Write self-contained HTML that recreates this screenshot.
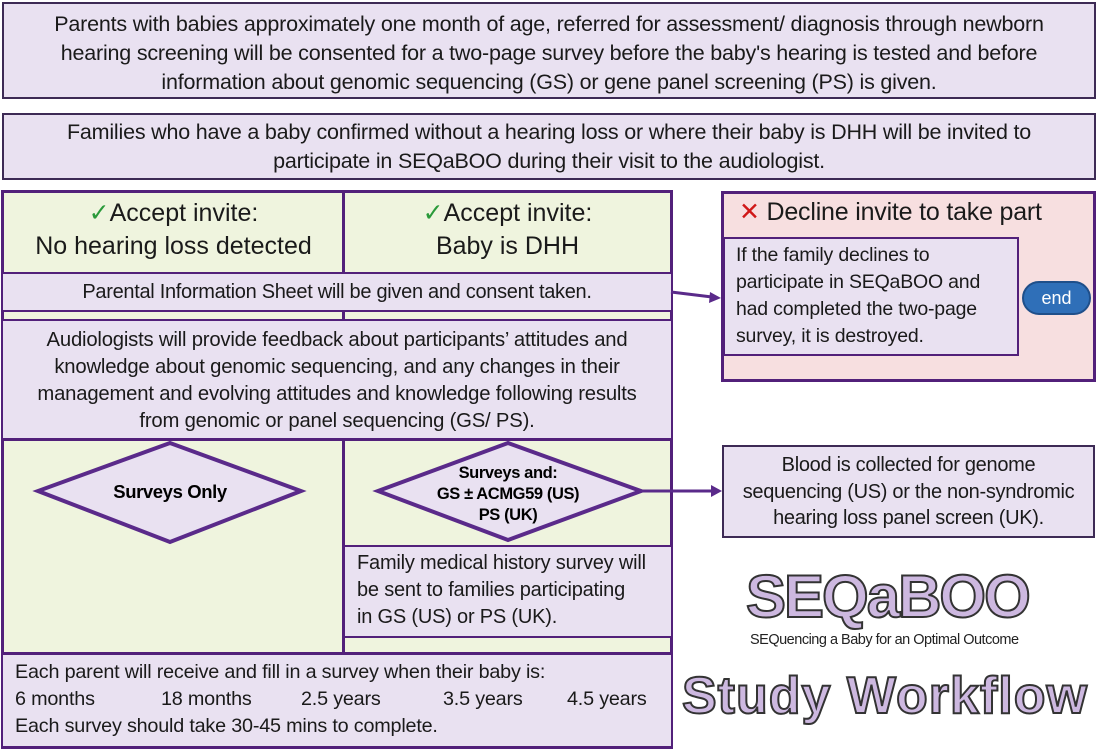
<!DOCTYPE html>
<html><head><meta charset="utf-8"><style>
*{margin:0;padding:0;box-sizing:border-box}
body{width:1100px;height:752px;background:#fff;position:relative;overflow:hidden;font-family:"Liberation Sans",sans-serif;color:#1a1a1a}
.b{position:absolute;white-space:nowrap}
.c{text-align:center}
.lav{background:#e9e1f1}
.grn{background:#eff4de}
</style></head><body>
<div class="b c lav" style="left:2px;top:2px;width:1094px;height:97px;border:2px solid #3d2a55;font-size:21.5px;line-height:29px;padding-top:6px;letter-spacing:-0.2px">Parents with babies approximately one month of age, referred for assessment/ diagnosis through newborn<br>hearing screening will be consented for a two-page survey before the baby's hearing is tested and before<br>information about genomic sequencing (GS) or gene panel screening (PS) is given.</div>
<div class="b c lav" style="left:2px;top:113px;width:1094px;height:67px;border:2px solid #3d2a55;font-size:21.5px;line-height:29px;padding-top:3px;letter-spacing:-0.2px">Families who have a baby confirmed without a hearing loss or where their baby is DHH will be invited to<br>participate in SEQaBOO during their visit to the audiologist.</div>

<!-- big box -->
<div class="b" style="left:1px;top:190px;width:672px;height:559px;border:3px solid #52207a;background:#eff4de"></div>
<div class="b c grn" style="left:4px;top:193px;width:339px;height:80px;font-size:25px;line-height:33px;padding-top:4px"><span style="color:#2a9a3a">✓</span>Accept invite:<br>No hearing loss detected</div>
<div class="b c grn" style="left:346px;top:193px;width:323px;height:80px;font-size:25px;line-height:33px;padding-top:4px"><span style="color:#2a9a3a">✓</span>Accept invite:<br>Baby is DHH</div>
<div class="b" style="left:342px;top:192px;width:3px;height:82px;background:#52207a"></div>
<div class="b c lav" style="left:3px;top:272px;width:668px;height:40px;border-top:2px solid #52207a;border-bottom:2px solid #52207a;font-size:20px;line-height:36px;letter-spacing:-0.3px">Parental Information Sheet will be given and consent taken.</div>
<div class="b" style="left:342px;top:311px;width:3px;height:10px;background:#52207a"></div>
<div class="b c lav" style="left:3px;top:319px;width:668px;height:122px;border-top:2px solid #52207a;border-bottom:3px solid #52207a;font-size:20.3px;line-height:27px;padding-top:6px;letter-spacing:-0.2px">Audiologists will provide feedback about participants’ attitudes and<br>knowledge about genomic sequencing, and any changes in their<br>management and evolving attitudes and knowledge following results<br>from genomic or panel sequencing (GS/ PS).</div>
<div class="b" style="left:342px;top:440px;width:3px;height:214px;background:#52207a"></div>
<div class="b lav" style="left:345px;top:545px;width:326px;height:93px;border-top:2px solid #52207a;border-bottom:2px solid #52207a;font-size:20px;line-height:27px;padding:3px 0 0 12px;letter-spacing:-0.2px">Family medical history survey will<br>be sent to families participating<br>in GS (US) or PS (UK).</div>
<div class="b lav" style="left:3px;top:652px;width:668px;height:94px;border-top:3px solid #52207a;font-size:19.8px;line-height:27px;padding:4px 0 0 12px;letter-spacing:-0.2px">Each parent will receive and fill in a survey when their baby is:<br><span style="display:inline-block;width:146px">6 months</span><span style="display:inline-block;width:140px">18 months</span><span style="display:inline-block;width:142px">2.5 years</span><span style="display:inline-block;width:124px">3.5 years</span>4.5 years<br>Each survey should take 30-45 mins to complete.</div>

<svg class="b" style="left:0;top:0" width="1100" height="752">
<polygon points="170,443 301,491 170,542 38,491" fill="#e9e1f1" stroke="#5a2a8a" stroke-width="4"/>
<polygon points="508,443 641,491 508,540 378,491" fill="#e9e1f1" stroke="#5a2a8a" stroke-width="4"/>
<text x="170" y="498" text-anchor="middle" font-family="Liberation Sans" font-weight="bold" font-size="18.5" letter-spacing="-0.4">Surveys Only</text>
<text x="508" y="478" text-anchor="middle" font-family="Liberation Sans" font-weight="bold" font-size="16.5" letter-spacing="-0.4">Surveys and:</text>
<text x="508" y="499" text-anchor="middle" font-family="Liberation Sans" font-weight="bold" font-size="16.5" letter-spacing="-0.4">GS ± ACMG59 (US)</text>
<text x="508" y="520" text-anchor="middle" font-family="Liberation Sans" font-weight="bold" font-size="16.5" letter-spacing="-0.4">PS (UK)</text>
<line x1="671" y1="292" x2="712" y2="297" stroke="#5a2a8a" stroke-width="3"/>
<polygon points="721,298 710,292 709,303" fill="#5a2a8a"/>
<line x1="641" y1="491" x2="712" y2="491" stroke="#5a2a8a" stroke-width="3"/>
<polygon points="722,491 711,485 711,497" fill="#5a2a8a"/>
</svg>

<!-- decline -->
<div class="b" style="left:721px;top:191px;width:375px;height:191px;border:3px solid #52207a;background:#f7dfe0"></div>
<div class="b" style="left:739px;top:195px;font-size:25px;line-height:34px;letter-spacing:-0.2px"><span style="color:#d01818">✕</span> Decline invite to take part</div>
<div class="b lav" style="left:723px;top:237px;width:296px;height:119px;border:2px solid #52207a;font-size:19.5px;line-height:27px;padding:3px 0 0 11px;letter-spacing:-0.2px">If the family declines to<br>participate in SEQaBOO and<br>had completed the two-page<br>survey, it is destroyed.</div>
<div class="b c" style="left:1022px;top:281px;width:69px;height:34px;border-radius:17px;background:#2f6fb8;border:2px solid #1f4f8a;color:#fff;font-size:18px;line-height:30px">end</div>

<div class="b c lav" style="left:722px;top:445px;width:373px;height:93px;border:2px solid #3d2a55;font-size:20px;line-height:26.5px;padding-top:5px;letter-spacing:-0.3px">Blood is collected for genome<br>sequencing (US) or the non-syndromic<br>hearing loss panel screen (UK).</div>

<!-- logo -->
<div class="b" style="left:746px;top:562px;font-size:60px;font-weight:bold;letter-spacing:-2px;line-height:70px;color:#cdb8e0;-webkit-text-stroke:2px #333">SEQaBOO</div>
<div class="b" style="left:750px;top:632px;font-size:14.5px;color:#222;letter-spacing:-0.5px">SEQuencing a Baby for an Optimal Outcome</div>
<div class="b" style="left:682px;top:665px;font-size:52px;font-weight:bold;line-height:62px;color:#cdb8e0;-webkit-text-stroke:2px #333;letter-spacing:1px">Study Workflow</div>
</body></html>
